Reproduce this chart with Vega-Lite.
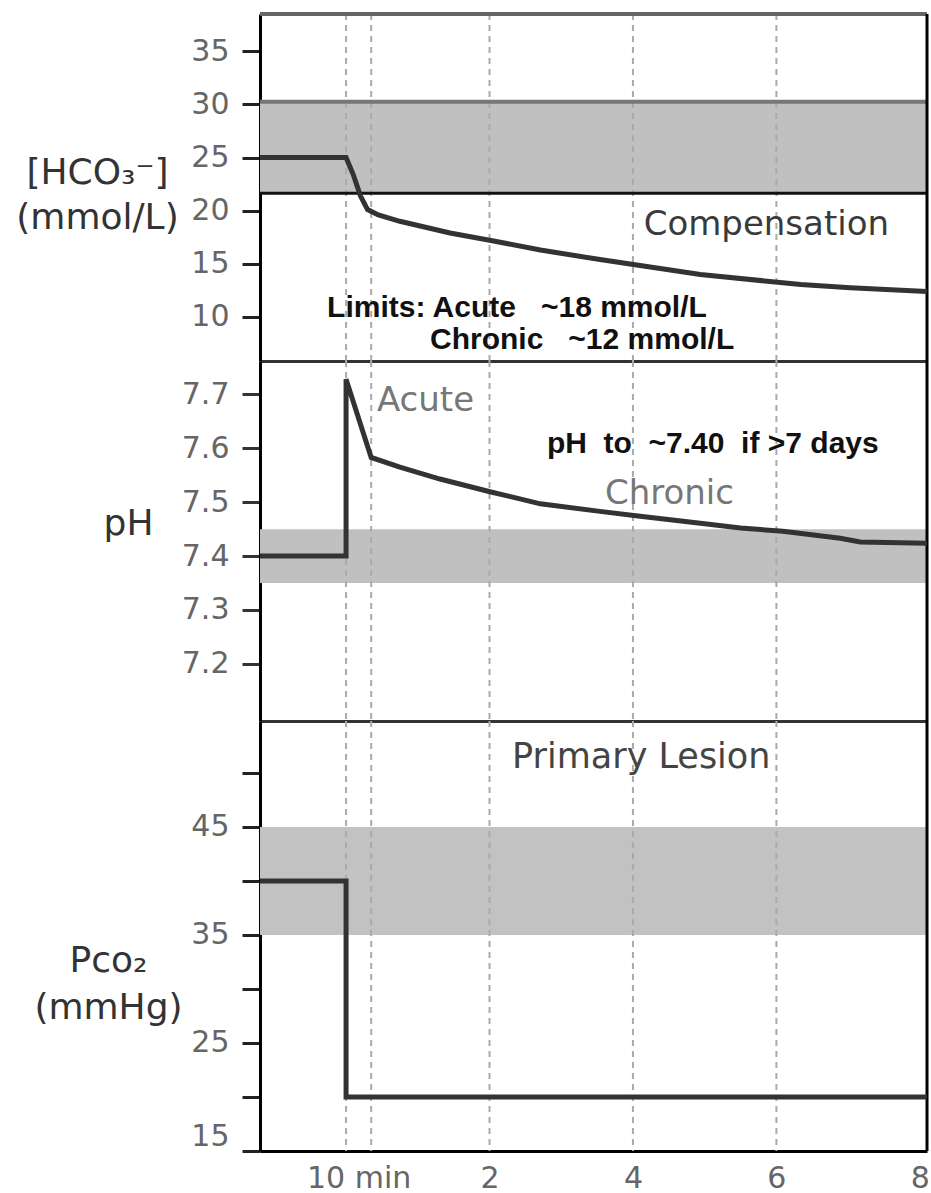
{
  "$schema": "https://vega.github.io/schema/vega-lite/v6.json",
  "background": "white",
  "padding": {"left": 15, "top": 12, "right": 2, "bottom": 0},
  "spacing": 0,
  "bounds": "flush",
  "config": {
    "view": {"stroke": null},
    "axis": {"labelFont": "DejaVu Sans", "titleFont": "DejaVu Sans", "grid": false},
    "text": {"font": "DejaVu Sans"}
  },
  "resolve": {"scale": {"y": "independent"}},
  "vconcat": [
    {
      "width": 667,
      "height": 347,
      "layer": [
        {
          "data": {"values": [{"lo": 21.65, "hi": 30.25}]},
          "mark": {"type": "rect", "color": "#c0c0c0"},
          "encoding": {
            "y": {"field": "lo", "type": "quantitative", "scale": {"domain": [5.86, 38.5], "nice": false, "zero": false}},
            "y2": {"field": "hi"}
          }
        },
        {
          "data": {"values": [{"t": 0}, {"t": 0.35}, {"t": 2}, {"t": 4}, {"t": 6}]},
          "mark": {"type": "rule", "color": "#aaaaaa", "strokeWidth": 2, "strokeDash": [6, 5]},
          "encoding": {
            "x": {"field": "t", "type": "quantitative", "scale": {"domain": [-1.2, 8.1], "nice": false, "zero": false}}
          }
        },
        {
          "data": {"values": [{"v": 30.25}]},
          "mark": {"type": "rule", "color": "#777777", "strokeWidth": 4},
          "encoding": {"y": {"field": "v", "type": "quantitative", "scale": {"domain": [5.86, 38.5], "nice": false, "zero": false}}}
        },
        {
          "data": {"values": [{"v": 21.65}]},
          "mark": {"type": "rule", "color": "#111111", "strokeWidth": 3},
          "encoding": {"y": {"field": "v", "type": "quantitative", "scale": {"domain": [5.86, 38.5], "nice": false, "zero": false}}}
        },
        {
          "data": {"values": [{"v": 38.5}]},
          "mark": {"type": "rule", "color": "#666666", "strokeWidth": 4},
          "encoding": {"y": {"field": "v", "type": "quantitative", "scale": {"domain": [5.86, 38.5], "nice": false, "zero": false}}}
        },
        {
          "data": {"values": [{"t": 8.1}]},
          "mark": {"type": "rule", "color": "#000000", "strokeWidth": 3},
          "encoding": {"x": {"field": "t", "type": "quantitative", "scale": {"domain": [-1.2, 8.1], "nice": false, "zero": false}}}
        },
        {
          "data": {"values": [
            {"day": -1.2, "hco3": 25}, {"day": 0, "hco3": 25}, {"day": 0.1, "hco3": 23.4},
            {"day": 0.2, "hco3": 21.4}, {"day": 0.3, "hco3": 20.1}, {"day": 0.45, "hco3": 19.6},
            {"day": 0.75, "hco3": 19.0}, {"day": 1.45, "hco3": 17.9}, {"day": 2.02, "hco3": 17.2},
            {"day": 2.71, "hco3": 16.3}, {"day": 3.54, "hco3": 15.4}, {"day": 4.94, "hco3": 14.0},
            {"day": 6.34, "hco3": 13.05}, {"day": 7.03, "hco3": 12.75}, {"day": 8.1, "hco3": 12.4}
          ]},
          "mark": {"type": "line", "color": "#333333", "strokeWidth": 5, "strokeJoin": "miter"},
          "encoding": {
            "x": {"field": "day", "type": "quantitative", "scale": {"domain": [-1.2, 8.1], "nice": false, "zero": false},
                  "axis": {"orient": "bottom", "labels": false, "ticks": false, "title": null, "domainColor": "#333333", "domainWidth": 3}},
            "y": {"field": "hco3", "type": "quantitative", "scale": {"domain": [5.86, 38.5], "nice": false, "zero": false},
                  "axis": {"values": [10, 15, 20, 25, 30, 35], "title": ["[HCO₃⁻]", "(mmol/L)"], "titleAngle": 0, "titleAlign": "center",
                           "titleBaseline": "alphabetic", "titleX": -163, "titleY": 169, "titleFontSize": 36, "titleFontWeight": "normal",
                           "titleColor": "#333333", "titleLineHeight": 45, "labelFontSize": 30, "labelColor": "#666666", "labelPadding": 13,
                           "tickSize": 18, "tickWidth": 3, "tickColor": "#222222", "domainColor": "#000000", "domainWidth": 3}}
          }
        },
        {
          "data": {"values": [{"day": 5.86, "v": 17.74, "label": "Compensation"}]},
          "mark": {"type": "text", "fontSize": 34, "color": "#3a3a3a", "align": "center", "baseline": "alphabetic"},
          "encoding": {
            "x": {"field": "day", "type": "quantitative", "scale": {"domain": [-1.2, 8.1], "nice": false, "zero": false}},
            "y": {"field": "v", "type": "quantitative", "scale": {"domain": [5.86, 38.5], "nice": false, "zero": false}},
            "text": {"field": "label"}
          }
        },
        {
          "data": {"values": [
            {"day": -0.265, "v": 10.04, "label": "Limits: Acute \u00a0\u00a0~18 mmol/L"},
            {"day": 1.17, "v": 7.03, "label": "Chronic \u00a0\u00a0~12 mmol/L"}
          ]},
          "mark": {"type": "text", "font": "Liberation Sans", "fontWeight": "bold", "fontSize": 30, "color": "#111111", "align": "left", "baseline": "alphabetic"},
          "encoding": {
            "x": {"field": "day", "type": "quantitative", "scale": {"domain": [-1.2, 8.1], "nice": false, "zero": false}},
            "y": {"field": "v", "type": "quantitative", "scale": {"domain": [5.86, 38.5], "nice": false, "zero": false}},
            "text": {"field": "label"}
          }
        }
      ]
    },
    {
      "width": 667,
      "height": 360,
      "layer": [
        {
          "data": {"values": [{"lo": 7.35, "hi": 7.45}]},
          "mark": {"type": "rect", "color": "#c0c0c0"},
          "encoding": {
            "y": {"field": "lo", "type": "quantitative", "scale": {"domain": [7.094, 7.762], "nice": false, "zero": false}},
            "y2": {"field": "hi"}
          }
        },
        {
          "data": {"values": [{"t": 0}, {"t": 0.35}, {"t": 2}, {"t": 4}, {"t": 6}]},
          "mark": {"type": "rule", "color": "#aaaaaa", "strokeWidth": 2, "strokeDash": [6, 5]},
          "encoding": {
            "x": {"field": "t", "type": "quantitative", "scale": {"domain": [-1.2, 8.1], "nice": false, "zero": false}}
          }
        },
        {
          "data": {"values": [{"t": 8.1}]},
          "mark": {"type": "rule", "color": "#000000", "strokeWidth": 3},
          "encoding": {"x": {"field": "t", "type": "quantitative", "scale": {"domain": [-1.2, 8.1], "nice": false, "zero": false}}}
        },
        {
          "data": {"values": [
            {"day": -1.2, "ph": 7.40, "o": 1}, {"day": 0, "ph": 7.40, "o": 2}, {"day": 0, "ph": 7.728, "o": 3},
            {"day": 0.35, "ph": 7.583, "o": 4}, {"day": 0.75, "ph": 7.565, "o": 5}, {"day": 1.31, "ph": 7.543, "o": 6},
            {"day": 2.02, "ph": 7.519, "o": 7}, {"day": 2.71, "ph": 7.497, "o": 8}, {"day": 3.54, "ph": 7.483, "o": 9},
            {"day": 4.10, "ph": 7.474, "o": 10}, {"day": 4.94, "ph": 7.461, "o": 11}, {"day": 5.50, "ph": 7.452, "o": 12},
            {"day": 6.09, "ph": 7.446, "o": 13}, {"day": 6.89, "ph": 7.433, "o": 14}, {"day": 7.17, "ph": 7.426, "o": 15},
            {"day": 8.1, "ph": 7.424, "o": 16}
          ]},
          "mark": {"type": "line", "color": "#333333", "strokeWidth": 5, "strokeJoin": "miter"},
          "encoding": {
            "x": {"field": "day", "type": "quantitative", "scale": {"domain": [-1.2, 8.1], "nice": false, "zero": false},
                  "axis": {"orient": "bottom", "labels": false, "ticks": false, "title": null, "domainColor": "#333333", "domainWidth": 3}},
            "y": {"field": "ph", "type": "quantitative", "scale": {"domain": [7.094, 7.762], "nice": false, "zero": false},
                  "axis": {"values": [7.2, 7.3, 7.4, 7.5, 7.6, 7.7], "format": ".1f", "title": "pH", "titleAngle": 0, "titleAlign": "center",
                           "titleBaseline": "alphabetic", "titleX": -132, "titleY": 173, "titleFontSize": 36, "titleFontWeight": "normal",
                           "titleColor": "#333333", "labelFontSize": 30, "labelColor": "#666666", "labelPadding": 13,
                           "tickSize": 18, "tickWidth": 3, "tickColor": "#333333", "domainColor": "#000000", "domainWidth": 3}},
            "order": {"field": "o", "type": "quantitative"}
          }
        },
        {
          "data": {"values": [
            {"day": 0.43, "v": 7.669, "label": "Acute"},
            {"day": 3.61, "v": 7.4965, "label": "Chronic"}
          ]},
          "mark": {"type": "text", "fontSize": 34, "color": "#777777", "align": "left", "baseline": "alphabetic"},
          "encoding": {
            "x": {"field": "day", "type": "quantitative", "scale": {"domain": [-1.2, 8.1], "nice": false, "zero": false}},
            "y": {"field": "v", "type": "quantitative", "scale": {"domain": [7.094, 7.762], "nice": false, "zero": false}},
            "text": {"field": "label"}
          }
        },
        {
          "data": {"values": [{"day": 2.8, "v": 7.591, "label": "pH \u00a0to \u00a0~7.40 \u00a0if >7 days"}]},
          "mark": {"type": "text", "font": "Liberation Sans", "fontWeight": "bold", "fontSize": 30, "color": "#111111", "align": "left", "baseline": "alphabetic"},
          "encoding": {
            "x": {"field": "day", "type": "quantitative", "scale": {"domain": [-1.2, 8.1], "nice": false, "zero": false}},
            "y": {"field": "v", "type": "quantitative", "scale": {"domain": [7.094, 7.762], "nice": false, "zero": false}},
            "text": {"field": "label"}
          }
        }
      ]
    },
    {
      "width": 667,
      "height": 430,
      "layer": [
        {
          "data": {"values": [{"lo": 35, "hi": 45}]},
          "mark": {"type": "rect", "color": "#c2c2c2"},
          "encoding": {
            "y": {"field": "lo", "type": "quantitative", "scale": {"domain": [15, 54.8], "nice": false, "zero": false}},
            "y2": {"field": "hi"}
          }
        },
        {
          "data": {"values": [{"t": 0}, {"t": 0.35}, {"t": 2}, {"t": 4}, {"t": 6}]},
          "mark": {"type": "rule", "color": "#aaaaaa", "strokeWidth": 2, "strokeDash": [6, 5]},
          "encoding": {
            "x": {"field": "t", "type": "quantitative", "scale": {"domain": [-1.2, 8.1], "nice": false, "zero": false}}
          }
        },
        {
          "data": {"values": [{"t": 8.1}]},
          "mark": {"type": "rule", "color": "#000000", "strokeWidth": 3},
          "encoding": {"x": {"field": "t", "type": "quantitative", "scale": {"domain": [-1.2, 8.1], "nice": false, "zero": false}}}
        },
        {
          "data": {"values": [
            {"day": -1.2, "pco2": 40, "o": 1}, {"day": 0, "pco2": 40, "o": 2},
            {"day": 0, "pco2": 20, "o": 3}, {"day": 8.1, "pco2": 20, "o": 4}
          ]},
          "mark": {"type": "line", "color": "#333333", "strokeWidth": 5, "strokeJoin": "miter"},
          "encoding": {
            "x": {"field": "day", "type": "quantitative", "scale": {"domain": [-1.2, 8.1], "nice": false, "zero": false},
                  "axis": {"orient": "bottom", "values": [0.175, 2, 4, 6, 8], "labelExpr": "datum.value < 1 ? '10 min' : format(datum.value, 'd')",
                           "ticks": false, "title": null, "labelFontSize": 30, "labelColor": "#666666", "labelPadding": 12,
                           "labelFlush": false, "labelOverlap": false, "domainColor": "#000000", "domainWidth": 3}},
            "y": {"field": "pco2", "type": "quantitative", "scale": {"domain": [15, 54.8], "nice": false, "zero": false},
                  "axis": {"values": [15, 20, 25, 30, 35, 40, 45, 50], "labelExpr": "datum.value % 10 == 5 ? datum.label : ''",
                           "labelFlush": true, "title": ["Pco₂", "(mmHg)"], "titleAngle": 0, "titleAlign": "center",
                           "titleBaseline": "alphabetic", "titleX": -152, "titleY": 250, "titleFontSize": 36, "titleFontWeight": "normal",
                           "titleColor": "#333333", "titleLineHeight": 47, "labelFontSize": 30, "labelColor": "#666666", "labelPadding": 13,
                           "tickSize": 18, "tickWidth": 3, "tickColor": "#222222", "domainColor": "#000000", "domainWidth": 3}},
            "order": {"field": "o", "type": "quantitative"}
          }
        },
        {
          "data": {"values": [{"day": 2.315, "v": 50.46, "label": "Primary Lesion"}]},
          "mark": {"type": "text", "fontSize": 35, "color": "#444444", "align": "left", "baseline": "alphabetic"},
          "encoding": {
            "x": {"field": "day", "type": "quantitative", "scale": {"domain": [-1.2, 8.1], "nice": false, "zero": false}},
            "y": {"field": "v", "type": "quantitative", "scale": {"domain": [15, 54.8], "nice": false, "zero": false}},
            "text": {"field": "label"}
          }
        }
      ]
    }
  ]
}
